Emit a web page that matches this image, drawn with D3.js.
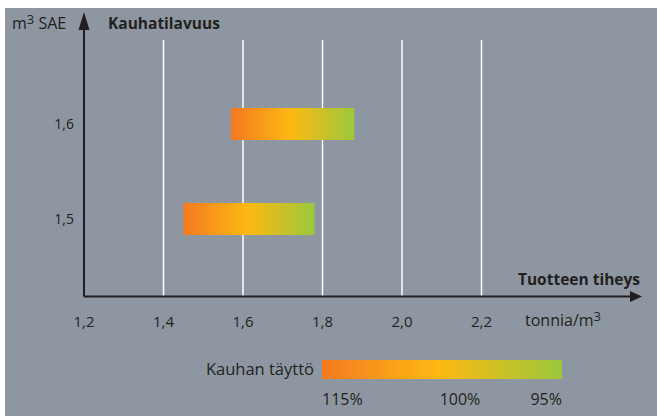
<!DOCTYPE html>
<html>
<head>
<meta charset="utf-8">
<script src="https://cdn.jsdelivr.net/npm/d3@7"></script>
<style>
  body { margin: 0; background: #fff; }
  svg text { font-family: "Open Sans", "Noto Sans", sans-serif; fill: #231f20; }
</style>
</head>
<body>
<div id="chart"></div>
<script>
// bucket volume (m3 SAE) vs. product density range (tonnia/m3)
const buckets = [1.6, 1.5];
const densityMin = [1.57, 1.45];
const densityMax = [1.88, 1.78];
const xTicks = [1.2, 1.4, 1.6, 1.8, 2.0, 2.2];
const fillLabels = ['115%', '100%', '95%'];
const gradStops = [
  { offset: 0, color: '#f47a21' },
  { offset: 0.49, color: '#fdb913' },
  { offset: 1, color: '#9bc83c' }
];

const width = 657, height = 418;
const fmt = d => d3.format('.1f')(d).replace('.', ',');

const svg = d3.select('#chart').append('svg')
  .attr('width', width)
  .attr('height', height);

// gray panel
svg.append('rect')
  .attr('x', 5).attr('y', 8)
  .attr('width', 652).attr('height', 408)
  .attr('fill', '#8e97a1');

const defs = svg.append('defs');
const grad = defs.append('linearGradient')
  .attr('id', 'fillGrad')
  .attr('x1', '0%').attr('x2', '100%').attr('y1', '0%').attr('y2', '0%');
grad.selectAll('stop')
  .data(gradStops)
  .enter().append('stop')
  .attr('offset', d => d.offset)
  .attr('stop-color', d => d.color);

const x = d3.scaleLinear().domain([1.2, 2.2]).range([84, 481.5]);
const y = d3.scaleLinear().domain([1.5, 1.6]).range([219, 124]);
const axisY = 296.5;

// gridlines
svg.append('g')
  .selectAll('line')
  .data(xTicks.slice(1))
  .enter().append('line')
  .attr('x1', d => x(d)).attr('x2', d => x(d))
  .attr('y1', 40).attr('y2', axisY)
  .attr('stroke', '#fff')
  .attr('stroke-width', 1.5);

// bars
const barH = 32;
svg.append('g')
  .selectAll('rect')
  .data(buckets)
  .enter().append('rect')
  .attr('x', (d, i) => x(densityMin[i]))
  .attr('width', (d, i) => x(densityMax[i]) - x(densityMin[i]))
  .attr('y', d => y(d) - barH / 2)
  .attr('height', barH)
  .attr('fill', 'url(#fillGrad)');

// axes lines with arrows
const axisColor = '#231f20';
svg.append('path')
  .attr('d', `M${x(1.2)},${axisY}H632M${x(1.2)},${axisY}V22`)
  .attr('fill', 'none')
  .attr('stroke', axisColor)
  .attr('stroke-width', 2);
svg.append('path')
  .attr('d', `M642,${axisY}L630,${axisY - 5.5}L630,${axisY + 5.5}Z`)
  .attr('fill', axisColor);
svg.append('path')
  .attr('d', `M${x(1.2)},12L${x(1.2) - 5.5},30L${x(1.2) + 5.5},30Z`)
  .attr('fill', axisColor);

// x tick labels
svg.append('g')
  .selectAll('text')
  .data(xTicks)
  .enter().append('text')
  .attr('x', d => x(d))
  .attr('y', 327)
  .attr('text-anchor', 'middle')
  .attr('font-size', 15)
  .text(fmt);

// y tick labels
svg.append('g')
  .selectAll('text')
  .data(buckets)
  .enter().append('text')
  .attr('x', 74)
  .attr('y', d => y(d) + 5)
  .attr('text-anchor', 'end')
  .attr('font-size', 14)
  .text(fmt);

// axis titles
const t1 = svg.append('text').attr('x', 12).attr('y', 29).attr('font-size', 16);
t1.append('tspan').text('m');
t1.append('tspan').attr('dy', -5).attr('font-size', 13).text('3');
t1.append('tspan').attr('dy', 5).text(' SAE');

svg.append('text')
  .attr('x', 108).attr('y', 29)
  .attr('font-size', 15.5).attr('font-weight', 'bold')
  .text('Kauhatilavuus');

svg.append('text')
  .attr('x', 640).attr('y', 285)
  .attr('text-anchor', 'end')
  .attr('font-size', 15.5).attr('font-weight', 'bold')
  .text('Tuotteen tiheys');

const t2 = svg.append('text').attr('x', 525).attr('y', 326).attr('font-size', 16);
t2.append('tspan').text('tonnia/m');
t2.append('tspan').attr('dy', -5).attr('font-size', 13).text('3');

// legend
const lx = d3.scaleLinear().domain([0, 1]).range([322, 562]);
svg.append('rect')
  .attr('x', lx(0)).attr('y', 360)
  .attr('width', lx(1) - lx(0)).attr('height', 19)
  .attr('fill', 'url(#fillGrad)');
svg.append('text')
  .attr('x', 314).attr('y', 375)
  .attr('text-anchor', 'end')
  .attr('font-size', 16.5)
  .text('Kauhan täyttö');
const legendPos = [0, 0.575, 1];
const anchors = ['start', 'middle', 'end'];
svg.append('g')
  .selectAll('text')
  .data(fillLabels)
  .enter().append('text')
  .attr('x', (d, i) => lx(legendPos[i]))
  .attr('y', 405)
  .attr('text-anchor', (d, i) => anchors[i])
  .attr('font-size', 16)
  .text(d => d);
</script>
</body>
</html>
